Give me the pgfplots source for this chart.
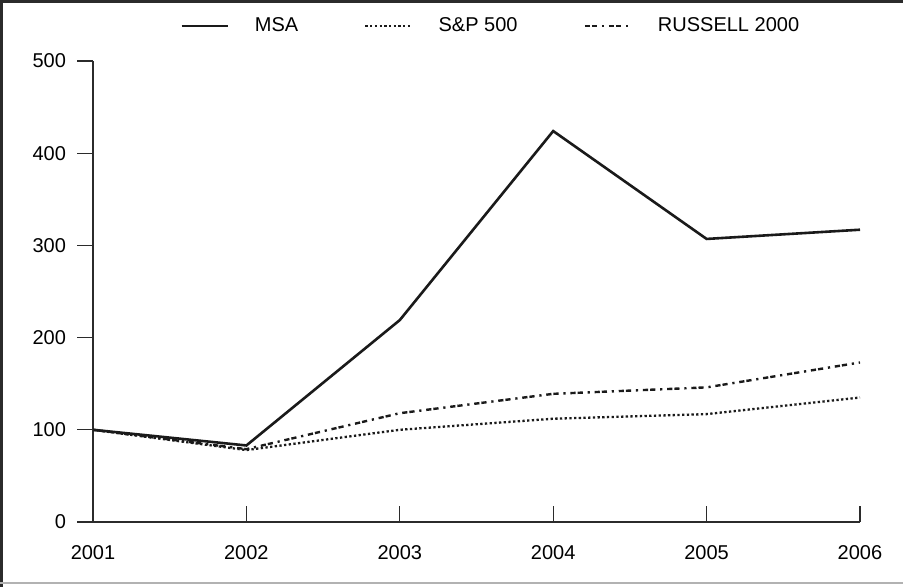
\documentclass[border=0pt]{standalone}
\usepackage{pgfplots}
\pgfplotsset{compat=1.18}
\usepackage{fontspec}
\setmainfont{Liberation Sans}
\definecolor{frame}{HTML}{2B2B2B}
\definecolor{lineblk}{HTML}{1A1A1A}
\begin{document}
\fontsize{10}{12}\selectfont
\begin{tikzpicture}
\useasboundingbox (0,0) rectangle (451.5pt,293.5pt);
\draw[frame, line width=1.5pt] (0.75pt,0) -- (0.75pt,292.75pt) -- (451.5pt,292.75pt);
\draw[gray!60, line width=1pt] (0,2pt) -- (451.5pt,2pt);
\begin{axis}[
  at={(46.5pt,32.5pt)}, anchor=origin,
  scale only axis, width=383.5pt, height=230.5pt,
  xmin=2001, xmax=2006, ymin=0, ymax=500,
  enlargelimits=false,
  axis x line=bottom, axis y line=left,
  axis line style={-, line width=1.2pt, color=frame},
  x axis line style={-}, y axis line style={-},
  xtick={2001,...,2006}, ytick={0,100,...,500},
  x tick label style={/pgf/number format/1000 sep={}, yshift=-8pt},
  /pgf/number format/assume math mode=true,
  xtick align=inside, ytick align=outside,
  major tick length=8pt,
  tick style={color=frame, line width=0.6pt},
  y tick label style={xshift=-2pt},
  tick label style={font=\fontsize{10}{12}\selectfont},
  legend columns=3,
  legend style={draw=none, fill=none, inner sep=0pt, at={(0.1134,1.076)}, anchor=west,
    font=\fontsize{10}{12}\selectfont,
    /tikz/every odd column/.append style={column sep=11pt},
    /tikz/every even column/.append style={column sep=31pt}},
  legend image code/.code={\draw[#1] (0pt,0pt) -- (23pt,0pt);},
]
\addplot[lineblk, line width=1.3pt] coordinates {(2001,100) (2002,83) (2003,219) (2004,424) (2005,307) (2006,317)};
\addlegendentry{MSA}
\addplot[lineblk, line width=1.15pt, dash pattern=on 1.15pt off 1.2pt] coordinates {(2001,100) (2002,78) (2003,100) (2004,112) (2005,117) (2006,135)};
\addlegendentry{S\&P 500}
\addplot[lineblk, line width=1.2pt, dash pattern=on 2.6pt off 1pt on 2.6pt off 2.4pt on 1.1pt off 2.4pt] coordinates {(2001,100) (2002,79) (2003,118) (2004,139) (2005,146) (2006,173)};
\addlegendentry{RUSSELL 2000}
\end{axis}
\end{tikzpicture}
\end{document}
